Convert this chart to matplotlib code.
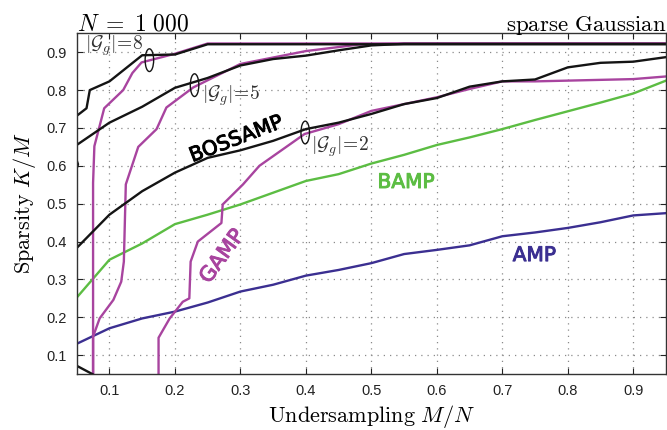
import matplotlib
matplotlib.use("Agg")
import matplotlib.pyplot as plt
import matplotlib.patheffects as pe
from matplotlib.patches import Ellipse

plt.rcParams['mathtext.fontset'] = 'cm'
plt.rcParams['font.family'] = ['Liberation Sans', 'DejaVu Sans']

# ---------------- data ----------------
x_grid = [0.05, 0.10, 0.15, 0.20, 0.25, 0.30, 0.35, 0.40, 0.45, 0.50,
          0.55, 0.60, 0.65, 0.70, 0.75, 0.80, 0.85, 0.90, 0.95]

amp_y = [0.130, 0.171, 0.197, 0.215, 0.239, 0.268, 0.286, 0.310, 0.325, 0.343,
         0.367, 0.378, 0.390, 0.414, 0.424, 0.436, 0.451, 0.469, 0.475]

bamp_y = [0.252, 0.352, 0.395, 0.446, 0.471, 0.498, 0.529, 0.560, 0.578, 0.606,
          0.629, 0.655, 0.675, 0.697, 0.721, 0.744, 0.767, 0.791, 0.825]

boss2_y = [0.383, 0.471, 0.533, 0.582, 0.621, 0.641, 0.666, 0.697, 0.714, 0.737,
           0.763, 0.779, 0.809, 0.823, 0.828, 0.860, 0.872, 0.875, 0.887]

boss5_y = [0.655, 0.714, 0.756, 0.806, 0.832, 0.865, 0.882, 0.891, 0.905, 0.918,
           0.922, 0.922, 0.922, 0.922, 0.922, 0.922, 0.922, 0.922, 0.922]

boss8_x = [0.05, 0.065, 0.07, 0.10, 0.15, 0.20, 0.25, 0.95]
boss8_y = [0.732, 0.752, 0.800, 0.823, 0.892, 0.894, 0.921, 0.921]

gamp8_x = [0.075, 0.075, 0.077, 0.092, 0.121, 0.135, 0.149, 0.20, 0.25, 0.95]
gamp8_y = [0.050, 0.555, 0.652, 0.752, 0.800, 0.845, 0.873, 0.896, 0.923, 0.923]

gamp5_x = [0.075, 0.075, 0.085, 0.106, 0.118, 0.122, 0.125, 0.144, 0.172, 0.187,
           0.228, 0.30, 0.40, 0.48, 0.55, 0.95]
gamp5_y = [0.050, 0.149, 0.197, 0.246, 0.294, 0.347, 0.551, 0.650, 0.697, 0.754,
           0.807, 0.869, 0.903, 0.920, 0.923, 0.923]

gamp2_x = [0.175, 0.175, 0.192, 0.212, 0.222, 0.224, 0.235, 0.271, 0.273, 0.304,
           0.329, 0.398, 0.45, 0.50, 0.55, 0.60, 0.65, 0.70, 0.75, 0.80, 0.90, 0.95]
gamp2_y = [0.050, 0.146, 0.197, 0.241, 0.250, 0.347, 0.400, 0.449, 0.498, 0.551,
           0.600, 0.684, 0.710, 0.745, 0.763, 0.781, 0.803, 0.823, 0.823, 0.825, 0.829, 0.836]

tail_x = [0.05, 0.074]
tail_y = [0.072, 0.050]
stub_x = [0.05, 0.052, 0.05]
stub_y = [0.594, 0.604, 0.614]

xticks = [0.1, 0.2, 0.3, 0.4, 0.5, 0.6, 0.7, 0.8, 0.9]
yticks = [0.1, 0.2, 0.3, 0.4, 0.5, 0.6, 0.7, 0.8, 0.9]
tick_labels = ['0.1', '0.2', '0.3', '0.4', '0.5', '0.6', '0.7', '0.8', '0.9']

ring_labels = [r'$|\mathcal{G}_g|\!=\!8$', r'$|\mathcal{G}_g|\!=\!5$', r'$|\mathcal{G}_g|\!=\!2$']
ring_centers = [(0.161, 0.879), (0.230, 0.813), (0.399, 0.688)]
ring_text_pos = [(0.062, 0.918), (0.242, 0.784), (0.408, 0.651)]

# ---------------- colours ----------------
C_BLACK = '#141414'
C_MAG = '#a8449f'
C_GREEN = '#5cbd43'
C_BLUE = '#3b2f91'

fig = plt.figure(figsize=(6.67, 4.30), dpi=100)
ax = fig.add_axes([0.115, 0.130, 0.8835, 0.7926])

lw = 1.7
ax.plot(x_grid, amp_y, color=C_BLUE, lw=lw, solid_joinstyle='round')
ax.plot(x_grid, bamp_y, color=C_GREEN, lw=lw, solid_joinstyle='round')
ax.plot(gamp8_x, gamp8_y, color=C_MAG, lw=lw, solid_joinstyle='round')
ax.plot(gamp5_x, gamp5_y, color=C_MAG, lw=lw, solid_joinstyle='round')
ax.plot(gamp2_x, gamp2_y, color=C_MAG, lw=lw, solid_joinstyle='round')
ax.plot(boss8_x, boss8_y, color=C_BLACK, lw=lw, solid_joinstyle='round')
ax.plot(x_grid, boss5_y, color=C_BLACK, lw=lw, solid_joinstyle='round')
ax.plot(x_grid, boss2_y, color=C_BLACK, lw=lw, solid_joinstyle='round')
ax.plot(tail_x, tail_y, color=C_BLACK, lw=lw)
ax.plot(stub_x, stub_y, color=C_BLACK, lw=lw)

ax.set_xlim(0.05, 0.95)
ax.set_ylim(0.05, 0.95)
ax.set_xticks(xticks)
ax.set_xticklabels(tick_labels)
ax.set_yticks(yticks)
ax.set_yticklabels(tick_labels)
ax.tick_params(direction='in', length=4, width=0.8, top=True, right=True,
               labelsize=10.5, colors='#222222', pad=7)
ax.grid(True, linestyle=(0, (1, 4)), color='#8a8a8a', lw=0.9)
for s in ax.spines.values():
    s.set_linewidth(1.0)
    s.set_color('#333333')

ax.set_xlabel(r'$\mathrm{Undersampling}\ M/N$', fontsize=16, labelpad=4)
ax.set_ylabel(r'$\mathrm{Sparsity}\ K/M$', fontsize=16, labelpad=6)
ax.set_title(r'$N\;=\;1\ 000$', loc='left', fontsize=17, pad=2)
ax.set_title(r'$\mathrm{sparse\ Gaussian}$', loc='right', fontsize=16.5, pad=2)

# rings and ring labels
for (cx, cy), lab, (tx, ty) in zip(ring_centers, ring_labels, ring_text_pos):
    ax.add_patch(Ellipse((cx, cy), width=0.013, height=0.06, angle=0,
                         fill=False, ec=C_BLACK, lw=1.0, zorder=5))
    ax.text(tx, ty, lab, fontsize=14, color='#333333', ha='left', va='center')

# curve labels
lab_font = ['DejaVu Sans']

def thick(c):
    return [pe.withStroke(linewidth=0.7, foreground=c)]

ax.text(0.294, 0.670, 'BOSSAMP', fontsize=14.5, color='black', rotation=21,
        ha='center', va='center', family=lab_font, path_effects=thick('black'))
ax.text(0.553, 0.556, 'BAMP', fontsize=14.5, color=C_GREEN,
        ha='center', va='center', family=lab_font, path_effects=thick(C_GREEN))
ax.text(0.749, 0.363, 'AMP', fontsize=14.5, color=C_BLUE,
        ha='center', va='center', family=lab_font, path_effects=thick(C_BLUE))
ax.text(0.272, 0.361, 'GAMP', fontsize=15, color=C_MAG, rotation=54,
        ha='center', va='center', family=lab_font, path_effects=thick(C_MAG))

fig.savefig('out.png', dpi=100)
